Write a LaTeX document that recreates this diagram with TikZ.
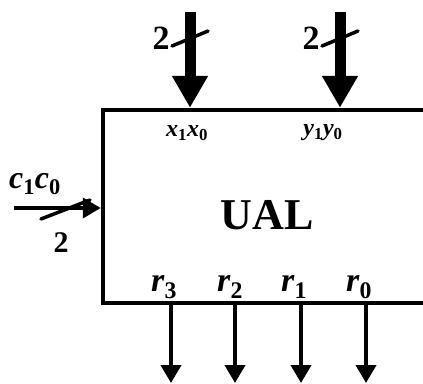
\documentclass[tikz,border=0pt]{standalone}
\usepackage{fontspec}
\setmainfont{Liberation Serif}
\usepackage{amsmath, amssymb}
\usetikzlibrary{arrows.meta}
\newcommand{\sig}[2]{\textbf{\textit{#1}}\textsubscript{\textbf{#2}}}

\begin{document}
\begin{tikzpicture}[x=1pt,y=-1pt,every node/.style={inner sep=0pt},
  bus/.style={line width=11pt,-{Triangle[width=34pt,length=32pt]}},
  wire/.style={line width=4pt,-{Triangle[width=20pt,length=18pt]}},
  tick/.style={line width=3.5pt,line cap=round}]
\useasboundingbox (0,0) rectangle (423,383);
\clip (0,0) rectangle (423,383);
\node[draw,line width=4.5pt,minimum width=360pt,minimum height=193pt] (ual) at (283,206.5) {};
\node (name) at (267,215) {\fontsize{44}{44}\selectfont\bfseries UAL};
\coordinate (xin) at (190,12);
\coordinate (yin) at (340,12);
\coordinate (cin) at (14,208);
\draw[bus] (xin)--(xin|-ual.north);
\draw[bus] (yin)--(yin|-ual.north);
\draw[wire] (cin)--(cin-|ual.west);
\draw[tick] (172,46)--(208,31);
\draw[tick] (322,46)--(358,31);
\draw[tick] (41,219)--(90,200);
\node (nx) at (161,38) {\fontsize{34}{34}\selectfont\bfseries 2};
\node (ny) at (311,38) {\fontsize{34}{34}\selectfont\bfseries 2};
\node (nc) at (61,243) {\fontsize{30}{30}\selectfont\bfseries 2};
\node (cc) at (35,184) {\fontsize{32}{32}\selectfont\sig{c}{1}\sig{c}{0}};
\node (xx) at (187,133) {\fontsize{24}{24}\selectfont\sig{x}{1}\sig{x}{0}};
\node (yy) at (323,133) {\fontsize{24}{24}\selectfont\sig{y}{1}\sig{y}{0}};
\node (r3) at (164,287) {\fontsize{34}{34}\selectfont\sig{r}{3}};
\node (r2) at (230,287) {\fontsize{34}{34}\selectfont\sig{r}{2}};
\node (r1) at (294,287) {\fontsize{34}{34}\selectfont\sig{r}{1}};
\node (r0) at (359,287) {\fontsize{34}{34}\selectfont\sig{r}{0}};
\coordinate (o3) at (171,383);
\coordinate (o2) at (235,383);
\coordinate (o1) at (301,383);
\coordinate (o0) at (366,383);
\draw[wire] (o3|-ual.south)--(o3);
\draw[wire] (o2|-ual.south)--(o2);
\draw[wire] (o1|-ual.south)--(o1);
\draw[wire] (o0|-ual.south)--(o0);
\end{tikzpicture}
\end{document}
